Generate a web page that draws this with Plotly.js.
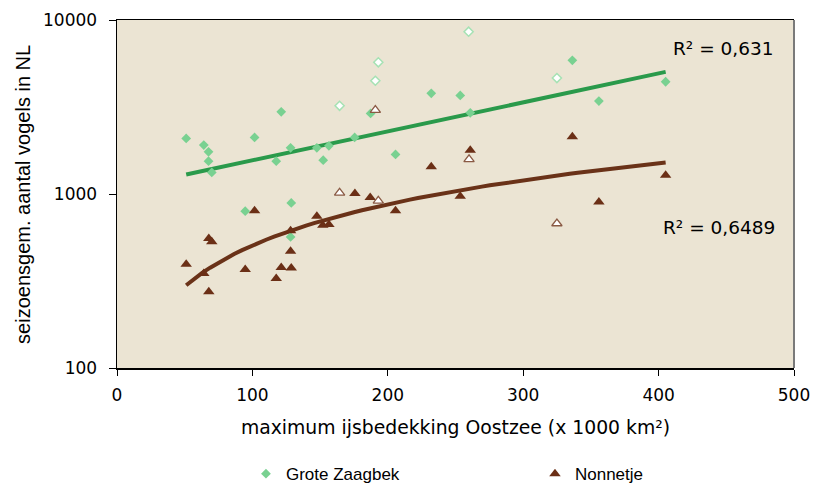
<!DOCTYPE html>
<html>
<head>
<meta charset="utf-8">
<script src="https://cdn.plot.ly/plotly-3.0.1.min.js"></script>
<style>
html,body{margin:0;padding:0;background:#ffffff;}
#chart{width:813px;height:485px;}
</style>
</head>
<body>
<div id="chart"></div>
<script>
// ---- data ----
// maximum ice cover Baltic Sea (x 1000 km2), filled markers (years used in fit)
const zaagbekX = [51.1, 64.1, 67.6, 67.6, 70.0, 94.7, 101.6, 117.6, 121.3, 128.2, 128.2, 128.7, 147.6, 152.3, 156.5, 175.5, 187.3, 205.7, 232.1, 253.5, 260.9, 336.3, 355.9, 405.2];
const zaagbekY = [2087, 1910, 1748, 1545, 1330, 797, 2115, 1545, 2969, 1843, 567, 889, 1843, 1565, 1892, 2115, 2906, 1689, 3788, 3688, 2929, 5865, 3420, 4417];
const nonnetjeX = [51.1, 64.1, 67.8, 67.8, 70.0, 94.7, 101.6, 117.6, 121.3, 128.2, 128.2, 128.7, 147.6, 152.0, 156.5, 175.7, 187.0, 205.7, 232.1, 253.5, 260.9, 336.3, 355.9, 405.2];
const nonnetjeY = [395, 349, 555, 274, 531, 368, 800, 327, 378, 614, 469, 376, 746, 662, 668, 1007, 955, 800, 1433, 972, 1787, 2132, 901, 1283];
// open markers (not used in fit)
const zaagbekOpenX = [164.4, 190.8, 193.0, 259.7, 324.9];
const zaagbekOpenY = [3214, 4476, 5711, 8565, 4638];
const nonnetjeOpenX = [164.4, 190.8, 193.0, 260.0, 324.9];
const nonnetjeOpenY = [1015, 3036, 913, 1580, 677];
// axis ticks and labels
const xTicks = [0, 100, 200, 300, 400, 500];
const yTicks = [100, 1000, 10000];
const yTickText = ['100', '1000', '10000'];
const seriesNames = ['Grote Zaagbek', 'Nonnetje'];
const r2Labels = ['R\u00b2 = 0,631', 'R\u00b2 = 0,6489'];
const xTitle = 'maximum ijsbedekking Oostzee (x 1000 km\u00b2)';
const yTitle = 'seizoensgem. aantal vogels in NL';

// ---- trendlines computed from the filled data ----
function linfit(xs, ys) {
  const n = xs.length;
  let sx = 0, sy = 0, sxx = 0, sxy = 0;
  for (let i = 0; i < n; i++) { sx += xs[i]; sy += ys[i]; sxx += xs[i]*xs[i]; sxy += xs[i]*ys[i]; }
  const b = (n*sxy - sx*sy) / (n*sxx - sx*sx);
  const a = (sy - b*sx) / n;
  return {a, b};
}
// exponential fit for Grote Zaagbek: ln y = a + b x
const expFit = linfit(zaagbekX, zaagbekY.map(Math.log));
// power fit for Nonnetje: ln y = a + b ln x
const powFit = linfit(nonnetjeX.map(Math.log), nonnetjeY.map(Math.log));

function sampleX(xs, n) {
  const lo = Math.min(...xs), hi = Math.max(...xs);
  const out = [];
  for (let i = 0; i <= n; i++) out.push(lo + (hi - lo) * i / n);
  return out;
}
const trendZX = sampleX(zaagbekX, 60);
const trendZY = trendZX.map(x => Math.exp(expFit.a + expFit.b * x));
const trendNX = sampleX(nonnetjeX, 60);
const trendNY = trendNX.map(x => Math.exp(powFit.a + powFit.b * Math.log(x)));

const green = '#79d191';
const greenLine = '#2a9a4b';
const brown = '#6b2f16';
const brownLine = '#6a3218';

const traces = [
  {x: trendZX, y: trendZY, mode: 'lines', line: {color: greenLine, width: 4}, showlegend: false, hoverinfo: 'skip'},
  {x: trendNX, y: trendNY, mode: 'lines', line: {color: brownLine, width: 4}, showlegend: false, hoverinfo: 'skip'},
  {x: zaagbekX, y: zaagbekY, mode: 'markers', name: seriesNames[0], legend: 'legend',
   marker: {symbol: 'diamond', size: 7.5, color: green, line: {width: 0}}},
  {x: zaagbekOpenX, y: zaagbekOpenY, mode: 'markers', name: seriesNames[0] + ' (open)', showlegend: false,
   marker: {symbol: 'diamond', size: 7, color: '#ffffff', line: {width: 1.5, color: '#a6e2b4'}}},
  {x: nonnetjeX, y: nonnetjeY, mode: 'markers', name: seriesNames[1], legend: 'legend2',
   marker: {symbol: 'triangle-up', size: 10, color: brown, line: {width: 0}}},
  {x: nonnetjeOpenX, y: nonnetjeOpenY, mode: 'markers', name: seriesNames[1] + ' (open)', showlegend: false,
   marker: {symbol: 'triangle-up', size: 9, color: '#ffffff', line: {width: 1.3, color: '#8a5a44'}}}
];

const tickFont = {family: 'DejaVu Sans, Verdana, sans-serif', size: 17, color: '#000000'};
const legendFont = {family: 'Liberation Sans, Arial, sans-serif', size: 17, color: '#000000'};

const layout = {
  width: 813, height: 485,
  margin: {l: 117, r: 19, t: 20, b: 117, autoexpand: false},
  paper_bgcolor: '#ffffff',
  plot_bgcolor: '#ebe4d3',
  showlegend: true,
  xaxis: {
    range: [0, 500], tickvals: xTicks, ticktext: xTicks.map(String),
    ticks: 'outside', ticklen: 6, tickcolor: '#000000', tickwidth: 1,
    showline: true, linecolor: '#000000', linewidth: 1.5, mirror: true,
    showgrid: false, zeroline: false, tickfont: tickFont, ticklabelstandoff: 5,
    title: {text: xTitle, font: {family: 'DejaVu Sans, Verdana, sans-serif', size: 18.8, color: '#000000'}, standoff: 17}
  },
  yaxis: {
    type: 'log', range: [2, 4], tickvals: yTicks, ticktext: yTickText,
    ticks: 'outside', ticklen: 7, tickcolor: '#000000', tickwidth: 1,
    showline: true, linecolor: '#000000', linewidth: 1.5, mirror: false,
    showgrid: false, zeroline: false, tickfont: tickFont, ticklabelstandoff: 8
  },
  shapes: [
    {type: 'line', xref: 'paper', yref: 'paper', x0: 1, x1: 1, y0: 0, y1: 1, line: {color: '#7a7a7a', width: 2}}
  ],
  annotations: [
    {text: yTitle, xref: 'paper', yref: 'paper', x: -0.139, y: 0.5, xanchor: 'center', yanchor: 'middle', textangle: -90, showarrow: false,
     font: {family: 'Liberation Sans, Arial, sans-serif', size: 20, color: '#000000'}},
    {text: r2Labels[0], xref: 'paper', yref: 'paper', x: 0.8966, y: 0.9195, xanchor: 'center', yanchor: 'middle', showarrow: false,
     font: {family: 'DejaVu Sans, Verdana, sans-serif', size: 18.5, color: '#000000'}},
    {text: r2Labels[1], xref: 'paper', yref: 'paper', x: 0.889, y: 0.405, xanchor: 'center', yanchor: 'middle', showarrow: false,
     font: {family: 'DejaVu Sans, Verdana, sans-serif', size: 18.5, color: '#000000'}}
  ],
  legend: {orientation: 'h', x: 0.1905, xanchor: 'left', y: -0.305, yanchor: 'middle', bgcolor: 'rgba(0,0,0,0)', font: legendFont},
  legend2: {orientation: 'h', x: 0.6174, xanchor: 'left', y: -0.305, yanchor: 'middle', bgcolor: 'rgba(0,0,0,0)', font: legendFont}
};

Plotly.newPlot('chart', traces, layout, {staticPlot: true, displayModeBar: false});
</script>
</body>
</html>
